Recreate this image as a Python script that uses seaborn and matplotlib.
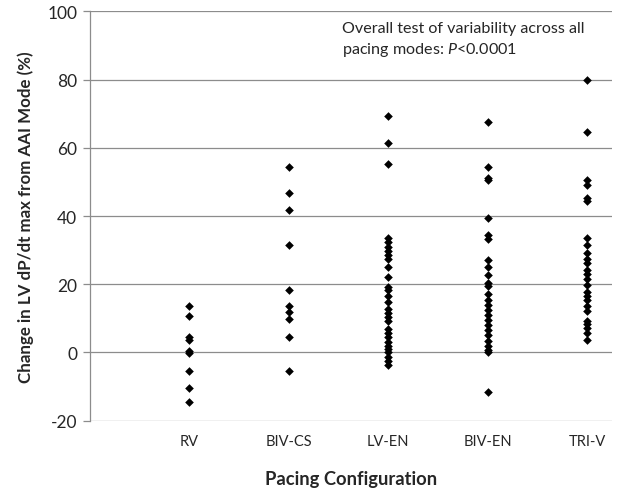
import matplotlib
matplotlib.use("Agg")
import matplotlib.pyplot as plt
import pandas as pd
import seaborn as sns

# values (% change from AAI mode)
rv = [13.5, 10.6, 4.5, 3.8, 0.3, -0.2, -5.3, -10.5, -14.4]
biv_cs = [54.3, 46.7, 41.8, 31.5, 18.4, 13.5, 12.0, 9.8, 4.5, -5.3]
lv_en = [69.3, 61.3, 55.2, 33.5, 32.3, 31.0, 29.8, 28.5, 27.3, 25.2, 22.0,
         19.3, 18.2, 16.5, 14.8, 12.8, 11.6, 10.5, 9.2, 7.0, 5.7, 4.5, 3.0,
         2.0, 1.0, 0.0, -1.2, -2.5, -3.8]
biv_en = [67.7, 54.5, 51.0, 50.5, 39.5, 34.5, 33.3, 27.2, 25.0, 22.8, 20.5,
          19.5, 17.2, 15.5, 14.0, 12.5, 11.0, 9.5, 8.0, 6.5, 5.0, 3.5, 2.0,
          0.8, 0.0, -11.5]
tri_v = [80.0, 64.5, 50.7, 49.2, 45.2, 44.4, 33.7, 31.5, 29.3, 27.5, 26.2,
         24.3, 23.0, 21.5, 19.8, 17.8, 16.5, 15.3, 13.5, 12.3, 9.3, 8.3, 7.3,
         5.8, 3.6]

categories = ["RV", "BIV-CS", "LV-EN", "BIV-EN", "TRI-V"]
series = [rv, biv_cs, lv_en, biv_en, tri_v]

df = pd.DataFrame({
    "mode": [c for c, vals in zip(categories, series) for _ in vals],
    "change": [v for vals in series for v in vals],
})

sns.set_style("white")
plt.rcParams["font.family"] = ["Lato", "DejaVu Sans"]
plt.rcParams["mathtext.fontset"] = "custom"
plt.rcParams["mathtext.rm"] = "Lato"
plt.rcParams["mathtext.it"] = "Lato:italic"
plt.rcParams["axes.unicode_minus"] = False

fig = plt.figure(figsize=(6.2, 4.89), dpi=100)
ax = fig.add_axes([0.145, 0.1376, 0.842, 0.8372])

sns.stripplot(data=df, x="mode", y="change", order=categories, jitter=False,
              color="black", marker="D", size=4.4, linewidth=0, ax=ax, zorder=3)

ax.set_xlim(-1, 4.25)
ax.set_ylim(-20, 100)
ax.set_yticks(range(-20, 101, 20))
ax.yaxis.grid(True, color="#8c8c8c", linewidth=0.9)
ax.set_axisbelow(True)

for side in ["top", "right", "bottom"]:
    ax.spines[side].set_visible(False)
ax.spines["left"].set_color("#8c8c8c")
ax.spines["left"].set_linewidth(0.9)

ax.tick_params(axis="y", which="both", left=True, length=5, width=0.9,
               color="#8c8c8c", labelsize=12.5, pad=4)
ax.tick_params(axis="x", bottom=False, labelsize=10.5, pad=6)

ax.set_xlabel("Pacing Configuration", fontsize=13.2, fontweight="bold", labelpad=16)
ax.set_ylabel("Change in LV dP/dt max from AAI Mode (%)", fontsize=12.2,
              fontweight="bold", labelpad=10)

ax.text(0.482, 0.976, "Overall test of variability across all\npacing modes: $\\it{P}$<0.0001",
        transform=ax.transAxes, ha="left", va="top", fontsize=11.6, linespacing=1.4)

fig.savefig("out.png", dpi=100)
